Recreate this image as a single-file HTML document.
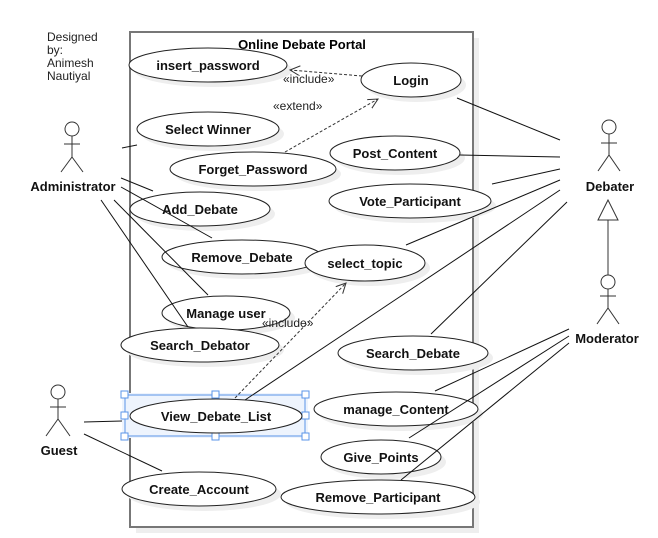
<!DOCTYPE html>
<html><head><meta charset="utf-8"><style>html,body{margin:0;padding:0;background:#fff;}svg{display:block}</style></head>
<body>
<svg width="658" height="538" viewBox="0 0 658 538" xmlns="http://www.w3.org/2000/svg" font-family="Liberation Sans, sans-serif">
<defs>
<marker id="oa" markerWidth="12" markerHeight="12" refX="10" refY="5" orient="auto" markerUnits="userSpaceOnUse"><path d="M0,0 L10,5 L0,10" fill="none" stroke="#333" stroke-width="1"/></marker>
</defs>
<!-- system box -->
<rect x="136" y="38" width="343" height="495" fill="#eee"/>
<rect x="130" y="32" width="343" height="495" fill="#fff" stroke="#777" stroke-width="2"/>
<text x="302" y="49" font-size="13" font-weight="bold" text-anchor="middle">Online Debate Portal</text>
<text font-size="12" fill="#222"><tspan x="47" y="41">Designed</tspan><tspan x="47" y="54">by:</tspan><tspan x="47" y="67">Animesh</tspan><tspan x="47" y="80">Nautiyal</tspan></text>

<!-- selection -->
<rect x="122" y="393" width="186" height="45" fill="#eef4fd"/>
<g fill="#fff" stroke="#5b95e8" stroke-width="1">
<line x1="125" y1="395" x2="305" y2="395"/><line x1="125" y1="436" x2="305" y2="436"/>
<line x1="125" y1="395" x2="125" y2="436"/><line x1="305" y1="395" x2="305" y2="436"/>
<rect x="121" y="391" width="7" height="7"/><rect x="212" y="391" width="7" height="7"/><rect x="302" y="391" width="7" height="7"/>
<rect x="121" y="412" width="7" height="7"/><rect x="302" y="412" width="7" height="7"/>
<rect x="121" y="433" width="7" height="7"/><rect x="212" y="433" width="7" height="7"/><rect x="302" y="433" width="7" height="7"/>
</g>

<!-- ellipses -->
<g stroke="#222" stroke-width="1" fill="#fff">
<g fill="#eee" stroke="none">
<ellipse cx="213" cy="70" rx="79" ry="17"/><ellipse cx="416" cy="85" rx="50" ry="17"/>
<ellipse cx="213" cy="134" rx="71" ry="17"/><ellipse cx="258" cy="174" rx="83" ry="17"/>
<ellipse cx="400" cy="158" rx="65" ry="17"/><ellipse cx="415" cy="206" rx="81" ry="17"/>
<ellipse cx="205" cy="214" rx="70" ry="17"/><ellipse cx="247" cy="262" rx="80" ry="17"/>
<ellipse cx="370" cy="268" rx="60" ry="18"/><ellipse cx="231" cy="318" rx="64" ry="17"/>
<ellipse cx="205" cy="350" rx="79" ry="17"/><ellipse cx="418" cy="358" rx="75" ry="17"/>
<ellipse cx="401" cy="414" rx="82" ry="17"/><ellipse cx="386" cy="462" rx="60" ry="17"/>
<ellipse cx="204" cy="494" rx="77" ry="17"/><ellipse cx="383" cy="502" rx="97" ry="17"/>
</g>
<ellipse cx="208" cy="65" rx="79" ry="17"/><ellipse cx="411" cy="80" rx="50" ry="17"/>
<ellipse cx="208" cy="129" rx="71" ry="17"/><ellipse cx="253" cy="169" rx="83" ry="17"/>
<ellipse cx="395" cy="153" rx="65" ry="17"/><ellipse cx="410" cy="201" rx="81" ry="17"/>
<ellipse cx="200" cy="209" rx="70" ry="17"/><ellipse cx="242" cy="257" rx="80" ry="17"/>
<ellipse cx="365" cy="263" rx="60" ry="18"/><ellipse cx="226" cy="313" rx="64" ry="17"/>
<ellipse cx="200" cy="345" rx="79" ry="17"/><ellipse cx="413" cy="353" rx="75" ry="17"/>
<ellipse cx="216" cy="416" rx="86" ry="17"/>
<ellipse cx="396" cy="409" rx="82" ry="17"/><ellipse cx="381" cy="457" rx="60" ry="17"/>
<ellipse cx="199" cy="489" rx="77" ry="17"/><ellipse cx="378" cy="497" rx="97" ry="17"/>
</g>
<g font-size="13" font-weight="bold" text-anchor="middle" fill="#111">
<text x="208" y="70">insert_password</text><text x="411" y="85">Login</text>
<text x="208" y="134">Select Winner</text><text x="253" y="174">Forget_Password</text>
<text x="395" y="158">Post_Content</text><text x="410" y="206">Vote_Participant</text>
<text x="200" y="214">Add_Debate</text><text x="242" y="262">Remove_Debate</text>
<text x="365" y="268">select_topic</text><text x="226" y="318">Manage user</text>
<text x="200" y="350">Search_Debator</text><text x="413" y="358">Search_Debate</text>
<text x="216" y="421">View_Debate_List</text><text x="396" y="414">manage_Content</text>
<text x="381" y="462">Give_Points</text><text x="199" y="494">Create_Account</text>
<text x="378" y="502">Remove_Participant</text>
</g>

<!-- association lines -->
<g stroke="#111" stroke-width="1">
<line x1="122" y1="148" x2="137" y2="145"/>
<line x1="121" y1="178" x2="153" y2="191"/>
<line x1="121" y1="187" x2="212" y2="238"/>
<line x1="114" y1="200" x2="208" y2="295"/>
<line x1="101" y1="200" x2="188" y2="327"/>
<line x1="560" y1="140" x2="457" y2="98"/>
<line x1="560" y1="157" x2="460" y2="155"/>
<line x1="560" y1="169" x2="492" y2="184"/>
<line x1="560" y1="180" x2="406" y2="245"/>
<line x1="560" y1="190" x2="245" y2="400"/>
<line x1="567" y1="202" x2="431" y2="334"/>
<line x1="569" y1="329" x2="435" y2="391"/>
<line x1="569" y1="336" x2="409" y2="438"/>
<line x1="569" y1="343" x2="401" y2="480"/>
<line x1="84" y1="422" x2="122" y2="421"/>
<line x1="84" y1="434" x2="162" y2="471"/>
</g>
<!-- dashed dependencies -->
<g stroke="#333" stroke-width="1" stroke-dasharray="3,2" fill="none">
<line x1="362" y1="76" x2="290" y2="70" marker-end="url(#oa)"/>
<line x1="285" y1="152" x2="378" y2="99" marker-end="url(#oa)"/>
<line x1="235" y1="398" x2="346" y2="283" marker-end="url(#oa)"/>
</g>
<g font-size="12" fill="#222">
<text x="283" y="83">«include»</text>
<text x="273" y="110">«extend»</text>
<text x="262" y="327">«include»</text>
</g>

<!-- actors -->
<g stroke="#333" stroke-width="1" fill="#fff">
<circle cx="72" cy="129" r="7"/><line x1="72" y1="136" x2="72" y2="157"/><line x1="64" y1="144" x2="80" y2="144"/><line x1="72" y1="157" x2="61" y2="172"/><line x1="72" y1="157" x2="83" y2="172"/>
<circle cx="609" cy="127" r="7"/><line x1="609" y1="134" x2="609" y2="155"/><line x1="601" y1="143" x2="617" y2="143"/><line x1="609" y1="155" x2="598" y2="171"/><line x1="609" y1="155" x2="620" y2="171"/>
<circle cx="608" cy="282" r="7"/><line x1="608" y1="289" x2="608" y2="308"/><line x1="600" y1="296" x2="616" y2="296"/><line x1="608" y1="308" x2="597" y2="324"/><line x1="608" y1="308" x2="619" y2="324"/>
<circle cx="58" cy="392" r="7"/><line x1="58" y1="399" x2="58" y2="419"/><line x1="50" y1="407" x2="66" y2="407"/><line x1="58" y1="419" x2="46" y2="436"/><line x1="58" y1="419" x2="70" y2="436"/>
<line x1="608" y1="220" x2="608" y2="275"/>
<polygon points="608,200 598,220 618,220"/>
</g>
<g font-size="13" font-weight="bold" text-anchor="middle" fill="#111">
<text x="73" y="191">Administrator</text>
<text x="610" y="191">Debater</text>
<text x="607" y="343">Moderator</text>
<text x="59" y="455">Guest</text>
</g>
</svg>
</body></html>
